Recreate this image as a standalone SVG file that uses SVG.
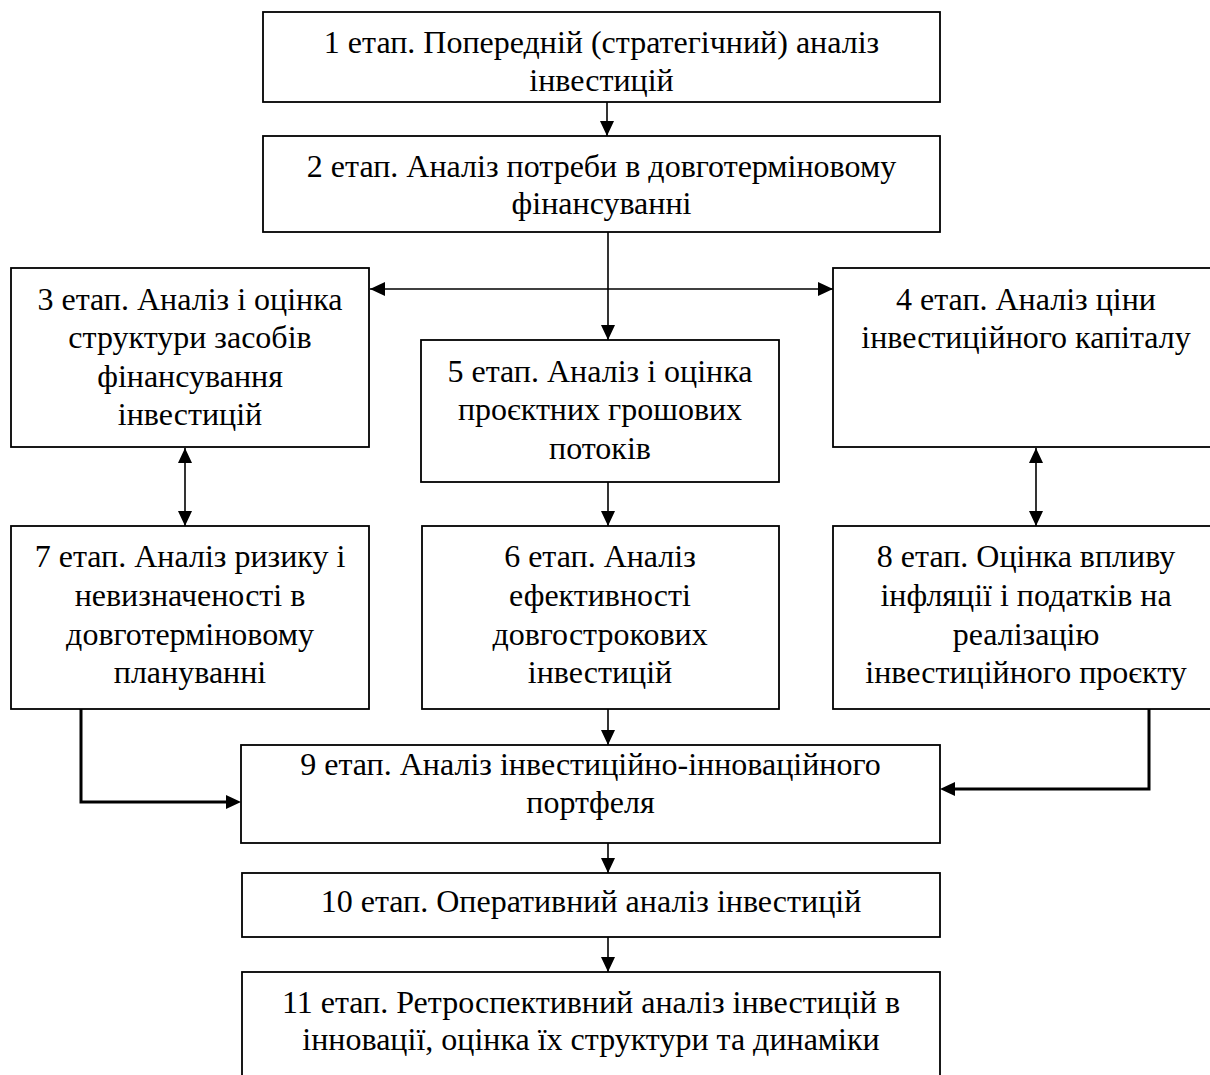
<svg xmlns="http://www.w3.org/2000/svg" width="1210" height="1075" viewBox="0 0 1210 1075">
<style>
.box{fill:#fff;stroke:#000;stroke-width:1.8}
.t{font-family:'Liberation Serif','Times New Roman','DejaVu Serif',serif;font-size:32px;fill:#000;text-anchor:middle}
.c{fill:none;stroke:#000;stroke-width:1.6}
.ct{fill:none;stroke:#000;stroke-width:3}
</style>
<defs>
<marker id="ah" markerUnits="userSpaceOnUse" markerWidth="16" markerHeight="16" viewBox="0 0 16 16" refX="15" refY="8" orient="auto-start-reverse">
<path d="M0,1 L15,8 L0,15 Z" fill="#000"/>
</marker>
</defs>
<rect width="1210" height="1075" fill="#fff"/>
<g id="n1"><rect class="box" x="263" y="12" width="677" height="90"/>
<text class="t" x="601.5" y="53">1 етап. Попередній (стратегічний) аналіз</text>
<text class="t" x="601.5" y="91">інвестицій</text></g>
<g id="n2"><rect class="box" x="263" y="136" width="677" height="96"/>
<text class="t" x="601.5" y="177">2 етап. Аналіз потреби в довготерміновому</text>
<text class="t" x="601.5" y="214">фінансуванні</text></g>
<g id="n3"><rect class="box" x="11" y="268" width="358" height="179"/>
<text class="t" x="190" y="310">3 етап. Аналіз і оцінка</text>
<text class="t" x="190" y="348">структури засобів</text>
<text class="t" x="190" y="387">фінансування</text>
<text class="t" x="190" y="425">інвестицій</text></g>
<g id="n4"><rect class="box" x="833" y="268" width="387" height="179"/>
<text class="t" x="1026" y="310">4 етап. Аналіз ціни</text>
<text class="t" x="1026" y="348">інвестиційного капіталу</text></g>
<g id="n5"><rect class="box" x="421" y="340" width="358" height="142"/>
<text class="t" x="600" y="382">5 етап. Аналіз і оцінка</text>
<text class="t" x="600" y="420">проєктних грошових</text>
<text class="t" x="600" y="459">потоків</text></g>
<g id="n6"><rect class="box" x="422" y="526" width="357" height="183"/>
<text class="t" x="600" y="567">6 етап. Аналіз</text>
<text class="t" x="600" y="606">ефективності</text>
<text class="t" x="600" y="645">довгострокових</text>
<text class="t" x="600" y="683">інвестицій</text></g>
<g id="n7"><rect class="box" x="11" y="526" width="358" height="183"/>
<text class="t" x="190" y="567">7 етап. Аналіз ризику і</text>
<text class="t" x="190" y="606">невизначеності в</text>
<text class="t" x="190" y="645">довготерміновому</text>
<text class="t" x="190" y="683">плануванні</text></g>
<g id="n8"><rect class="box" x="833" y="526" width="387" height="183"/>
<text class="t" x="1026" y="567">8 етап. Оцінка впливу</text>
<text class="t" x="1026" y="606">інфляції і податків на</text>
<text class="t" x="1026" y="645">реалізацію</text>
<text class="t" x="1026" y="683">інвестиційного проєкту</text></g>
<g id="n9"><rect class="box" x="241" y="745" width="699" height="98"/>
<text class="t" x="590.5" y="775">9 етап. Аналіз інвестиційно-інноваційного</text>
<text class="t" x="590.5" y="813">портфеля</text></g>
<g id="n10"><rect class="box" x="242" y="873" width="698" height="64"/>
<text class="t" x="591" y="912">10 етап. Оперативний аналіз інвестицій</text></g>
<g id="n11"><rect class="box" x="242" y="972" width="698" height="110"/>
<text class="t" x="591" y="1013">11 етап. Ретроспективний аналіз інвестицій в</text>
<text class="t" x="591" y="1050">інновації, оцінка їх структури та динаміки</text></g>
<g id="connectors">
<line class="c" x1="607" y1="102" x2="607" y2="136" marker-end="url(#ah)"/>
<line class="c" x1="608" y1="232" x2="608" y2="340" marker-end="url(#ah)"/>
<line class="c" x1="370" y1="289" x2="833" y2="289" marker-start="url(#ah)" marker-end="url(#ah)"/>
<line class="c" x1="185" y1="448" x2="185" y2="526" marker-start="url(#ah)" marker-end="url(#ah)"/>
<line class="c" x1="1036" y1="448" x2="1036" y2="526" marker-start="url(#ah)" marker-end="url(#ah)"/>
<line class="c" x1="608" y1="482" x2="608" y2="526" marker-end="url(#ah)"/>
<line class="c" x1="608" y1="709" x2="608" y2="745" marker-end="url(#ah)"/>
<path class="ct" d="M81,709 V802 H227"/>
<path d="M226,795 L241,802 L226,809 Z" fill="#000"/>
<path class="ct" d="M1149,709 V789 H954"/>
<path d="M955,782 L940,789 L955,796 Z" fill="#000"/>
<line class="c" x1="608" y1="843" x2="608" y2="873" marker-end="url(#ah)"/>
<line class="c" x1="608" y1="937" x2="608" y2="972" marker-end="url(#ah)"/>
</g>
</svg>
